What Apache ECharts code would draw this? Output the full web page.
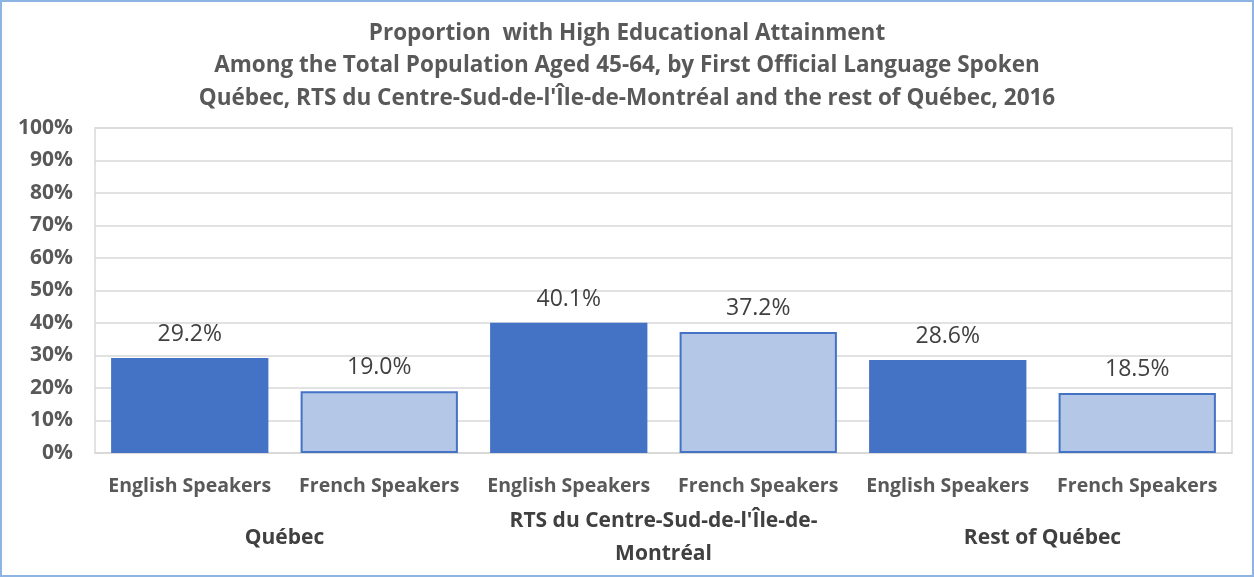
<!DOCTYPE html>
<html>
<head>
<meta charset="utf-8">
<script src="https://cdn.jsdelivr.net/npm/echarts@6/dist/echarts.min.js"></script>
<style>
  html, body { margin: 0; padding: 0; background: #fff; }
  #chart {
    width: 1254px;
    height: 577px;
    box-sizing: border-box;
    border: 2px solid #8eb4e3;
  }
</style>
</head>
<body>
<div id="chart"></div>
<script>
// categories (bottom level) and groups (second level)
var categories = ['English Speakers', 'French Speakers', 'English Speakers', 'French Speakers', 'English Speakers', 'French Speakers'];
var groups = ['Québec', "RTS du Centre-Sud-de-l'Île-de-\nMontréal", 'Rest of Québec'];
var values = [29.2, 19.0, 40.1, 37.2, 28.6, 18.5];
var titleLines = [
  'Proportion  with High Educational Attainment',
  'Among the Total Population Aged 45-64, by First Official Language Spoken',
  "Québec, RTS du Centre-Sud-de-l'Île-de-Montréal and the rest of Québec, 2016"
];

var font = 'Open Sans';
var chart = echarts.init(document.getElementById('chart'));

chart.setOption({
  animation: false,
  title: {
    text: titleLines.join('\n'),
    left: 'center',
    top: 10,
    textStyle: {
      fontFamily: font,
      fontSize: 22.5,
      fontWeight: 'bold',
      color: '#595959',
      lineHeight: 32.5
    }
  },
  grid: {
    left: 93,
    right: 20,
    top: 126,
    bottom: 122,
    show: true,
    borderColor: '#d9d9d9',
    borderWidth: 1.5
  },
  xAxis: [
    {
      type: 'category',
      data: categories,
      axisTick: { show: false },
      axisLine: { lineStyle: { color: '#d9d9d9', width: 1.5 } },
      axisLabel: {
        interval: 0,
        margin: 23,
        fontFamily: font,
        fontSize: 19.5,
        fontWeight: 'bold',
        color: '#595959'
      }
    },
    {
      type: 'category',
      position: 'bottom',
      data: groups,
      axisTick: { show: false },
      axisLine: { show: false },
      splitLine: { show: false },
      axisLabel: {
        interval: 0,
        margin: 85,
        verticalAlign: 'middle',
        lineHeight: 33,
        fontFamily: font,
        fontSize: 21,
        fontWeight: 'bold',
        color: '#404040'
      }
    }
  ],
  yAxis: {
    type: 'value',
    min: 0,
    max: 100,
    interval: 10,
    axisLine: { show: false },
    axisTick: { show: false },
    splitLine: { lineStyle: { color: '#d9d9d9', width: 1.5 } },
    axisLabel: {
      formatter: '{value}%',
      margin: 22,
      fontFamily: font,
      fontSize: 21,
      fontWeight: 'bold',
      color: '#595959'
    }
  },
  series: [
    {
      type: 'bar',
      barCategoryGap: '17%',
      data: values.map(function (v, i) {
        var english = i % 2 === 0;
        return {
          value: v,
          itemStyle: english
            ? { color: '#4472c4', borderColor: '#4472c4', borderWidth: 0 }
            : { color: '#b4c7e7', borderColor: '#4472c4', borderWidth: 2 }
        };
      }),
      label: {
        show: true,
        position: 'top',
        distance: 12,
        fontFamily: font,
        fontSize: 23,
        color: '#404040',
        formatter: function (p) { return p.value.toFixed(1) + '%'; }
      }
    }
  ]
});
</script>
</body>
</html>
